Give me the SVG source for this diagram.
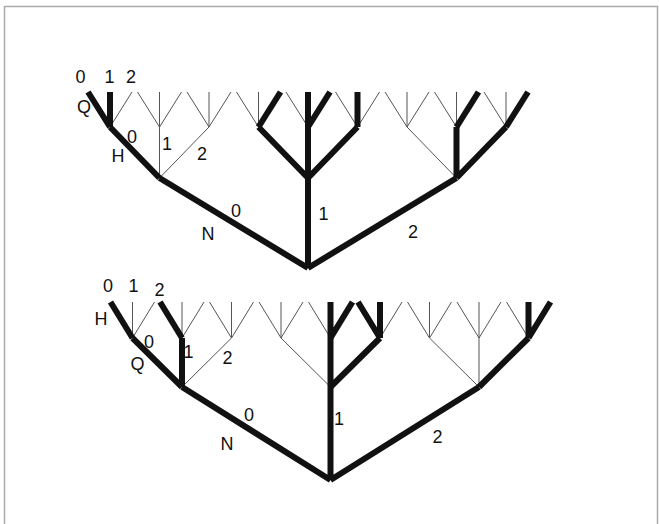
<svg xmlns="http://www.w3.org/2000/svg" width="659" height="524" viewBox="0 0 659 524">
<style>
.thick{stroke:#111;stroke-width:6;fill:none;stroke-linecap:butt}
.thin{stroke:#555;stroke-width:1;fill:none}
.frame{stroke:#aaa;stroke-width:1.5;fill:none}
text{font-family:"Liberation Sans",Arial,sans-serif;font-size:18px;fill:#111;text-anchor:middle}
</style>
<rect width="659" height="524" fill="#fff"/>
<path class="frame" d="M4.5,524 V6.5 H657.5 V524"/>
<g id="connectors">
<g id="top-thin" class="thin">
<path d="M159.5,178 L159.5,127 M159.5,178 L209,127 M456.5,178 L407,127"/>
<path d="M110,127 L132,92"/>
<path d="M159.5,127 L137.5,92 M159.5,127 L159.5,92 M159.5,127 L181.5,92"/>
<path d="M209,127 L187,92 M209,127 L209,92 M209,127 L231,92"/>
<path d="M258.5,127 L236.5,92 M258.5,127 L258.5,92"/>
<path d="M308,127 L286,92"/>
<path d="M357.5,127 L335.5,92 M357.5,127 L379.5,92"/>
<path d="M407,127 L385,92 M407,127 L407,92 M407,127 L429,92"/>
<path d="M456.5,127 L434.5,92 M456.5,127 L456.5,92"/>
<path d="M506,127 L484,92 M506,127 L506,92"/>
</g>
<g id="top-thick" class="thick">
<path d="M308,268 L159.5,178 M308,268 L308,178 M308,268 L456.5,178"/>
<path d="M159.5,178 L110,127"/>
<path d="M308,178 L258.5,127 M308,178 L308,127 M308,178 L357.5,127"/>
<path d="M456.5,178 L456.5,127 M456.5,178 L506,127"/>
<path d="M110,127 L88,92 M110,127 L110,92"/>
<path d="M258.5,127 L280.5,92"/>
<path d="M308,127 L308,92 M308,127 L330,92"/>
<path d="M357.5,127 L357.5,92"/>
<path d="M456.5,127 L478.5,92"/>
<path d="M506,127 L528,92"/>
</g>
<g id="bottom-thin" class="thin">
<path d="M182,387 L231.5,338 M330.5,387 L281,338 M479,387 L429.5,338 M479,387 L479,338"/>
<path d="M132.5,338 L132.5,302 M132.5,338 L154.5,302"/>
<path d="M182,338 L182,302 M182,338 L204,302"/>
<path d="M231.5,338 L209.5,302 M231.5,338 L231.5,302 M231.5,338 L253.5,302"/>
<path d="M281,338 L259,302 M281,338 L281,302 M281,338 L303,302"/>
<path d="M330.5,338 L308.5,302"/>
<path d="M380,338 L402,302"/>
<path d="M429.5,338 L407.5,302 M429.5,338 L429.5,302 M429.5,338 L451.5,302"/>
<path d="M479,338 L457,302 M479,338 L479,302 M479,338 L501,302"/>
<path d="M528.5,338 L506.5,302"/>
</g>
<g id="bottom-thick" class="thick">
<path d="M330.5,480 L182,387 M330.5,480 L330.5,387 M330.5,480 L479,387"/>
<path d="M182,387 L132.5,338 M182,387 L182,338"/>
<path d="M330.5,387 L330.5,338 M330.5,387 L380,338"/>
<path d="M479,387 L528.5,338"/>
<path d="M132.5,338 L110.5,302"/>
<path d="M182,338 L160,302"/>
<path d="M330.5,338 L330.5,302 M330.5,338 L352.5,302"/>
<path d="M380,338 L358,302 M380,338 L380,302"/>
<path d="M528.5,338 L528.5,302 M528.5,338 L550.5,302"/>
</g>
</g>
<g id="top-labels">
<text x="80.5" y="83">0</text>
<text x="109.5" y="83">1</text>
<text x="131" y="83">2</text>
<text x="84" y="113">Q</text>
<text x="118" y="162">H</text>
<text x="132" y="143">0</text>
<text x="167" y="150">1</text>
<text x="202" y="160">2</text>
<text x="236" y="217">0</text>
<text x="208" y="240">N</text>
<text x="323.5" y="220">1</text>
<text x="413" y="238">2</text>
</g>
<g id="bottom-labels">
<text x="108" y="292">0</text>
<text x="133.5" y="292">1</text>
<text x="159.5" y="296">2</text>
<text x="101" y="325">H</text>
<text x="149" y="348">0</text>
<text x="137.5" y="370">Q</text>
<text x="188.5" y="358">1</text>
<text x="227.5" y="364">2</text>
<text x="249" y="421">0</text>
<text x="227" y="450">N</text>
<text x="339" y="425">1</text>
<text x="437.5" y="443">2</text>
</g>
</svg>
